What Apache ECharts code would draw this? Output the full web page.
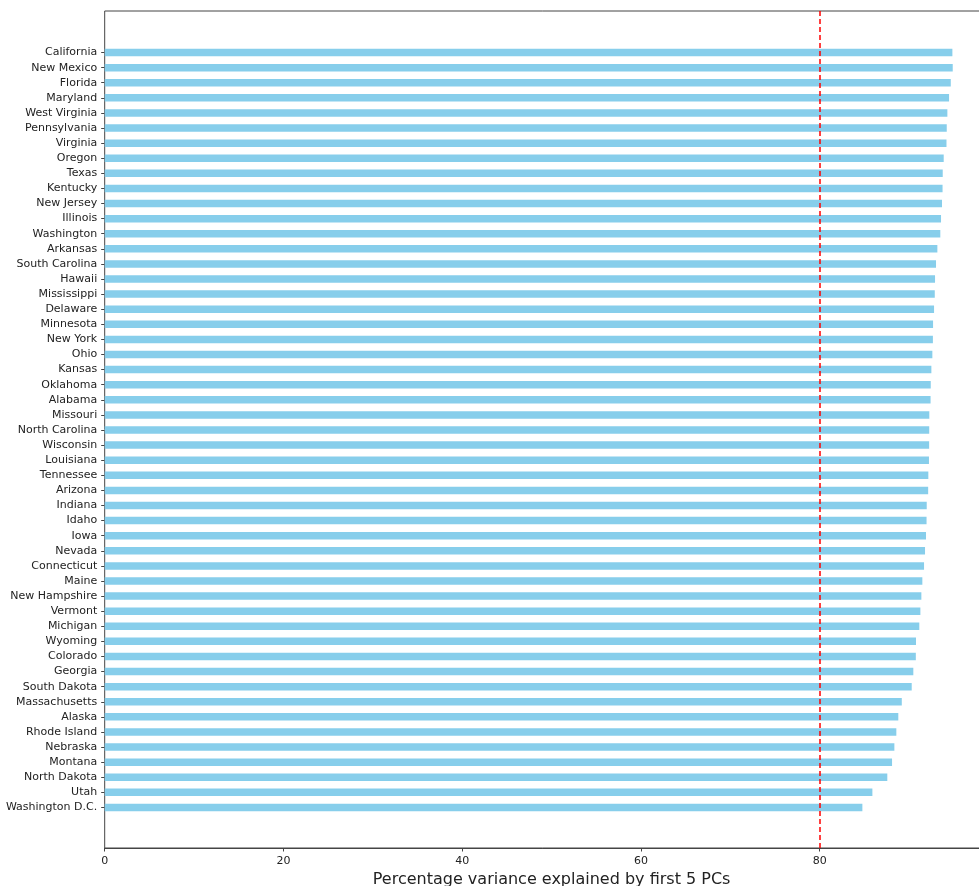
<!DOCTYPE html>
<html>
<head>
<meta charset="utf-8">
<script src="https://cdn.jsdelivr.net/npm/echarts@6/dist/echarts.min.js"></script>
<style>
  html, body { margin: 0; padding: 0; background: #fff; }
  #main { width: 979px; height: 886px; }
</style>
</head>
<body>
<div id="main"></div>
<script>
// states, sorted by variance explained (top to bottom)
const states = [
  'California', 'New Mexico', 'Florida', 'Maryland', 'West Virginia', 'Pennsylvania',
  'Virginia', 'Oregon', 'Texas', 'Kentucky', 'New Jersey', 'Illinois', 'Washington',
  'Arkansas', 'South Carolina', 'Hawaii', 'Mississippi', 'Delaware', 'Minnesota',
  'New York', 'Ohio', 'Kansas', 'Oklahoma', 'Alabama', 'Missouri', 'North Carolina',
  'Wisconsin', 'Louisiana', 'Tennessee', 'Arizona', 'Indiana', 'Idaho', 'Iowa',
  'Nevada', 'Connecticut', 'Maine', 'New Hampshire', 'Vermont', 'Michigan', 'Wyoming',
  'Colorado', 'Georgia', 'South Dakota', 'Massachusetts', 'Alaska', 'Rhode Island',
  'Nebraska', 'Montana', 'North Dakota', 'Utah', 'Washington D.C.'
]

// % variance explained by first 5 PCs
const variance = [
  94.84, 94.88, 94.66, 94.47, 94.28, 94.21,
  94.18, 93.87, 93.76, 93.74, 93.68, 93.57, 93.49,
  93.16, 93.01, 92.90, 92.87, 92.79, 92.68,
  92.66, 92.60, 92.49, 92.42, 92.40, 92.26, 92.25,
  92.24, 92.22, 92.15, 92.13, 91.97, 91.95, 91.89,
  91.78, 91.67, 91.48, 91.37, 91.26, 91.14, 90.77,
  90.75, 90.47, 90.29, 89.18, 88.79, 88.57,
  88.35, 88.09, 87.56, 85.89, 84.77
]

const threshold = 80
const xMin = 0
const xMax = 100
const xStep = 20

const font = 'DejaVu Sans'
const ink = '#222'

const chart = echarts.init(document.getElementById('main'))

const option = {
  animation: false,
  textStyle: { fontFamily: font },
  grid: [
    // frame + x axis (right side runs off the canvas, like the cropped original)
    { left: 104.7, right: -19.5, top: 11, bottom: 38, show: true, borderColor: '#444', borderWidth: 1, outerBoundsMode: 'none', containLabel: false },
    // bars
    { left: 104.7, right: -19.5, top: 45, bottom: 71, outerBoundsMode: 'none', containLabel: false },
  ],
  xAxis: [
    {
      type: 'value',
      gridIndex: 0,
      min: xMin,
      max: xMax,
      interval: xStep,
      name: 'Percentage variance explained by first 5 PCs',
      nameLocation: 'middle',
      nameGap: 22,
      nameTextStyle: { fontSize: 16, color: ink, fontFamily: font },
      axisLine: { show: true, lineStyle: { color: '#444', width: 1 } },
      axisTick: { show: true, inside: false, length: 3.5, lineStyle: { color: '#444' } },
      axisLabel: { fontSize: 11, color: ink, margin: 8, fontFamily: font },
      splitLine: { show: false },
    },
    {
      type: 'value',
      gridIndex: 1,
      min: xMin,
      max: xMax,
      show: false,
      splitLine: { show: false },
    },
  ],
  yAxis: [
    {
      type: 'value',
      gridIndex: 0,
      min: 0,
      max: 1,
      show: false,
      splitLine: { show: false },
    },
    {
      type: 'category',
      gridIndex: 1,
      inverse: true,
      data: states,
      axisLine: { show: false },
      axisTick: { show: true, alignWithLabel: true, length: 3.5, lineStyle: { color: '#444' } },
      axisLabel: { fontSize: 11, color: ink, margin: 7.5, fontFamily: font, interval: 0 },
      splitLine: { show: false },
    },
  ],
  series: [
    {
      type: 'bar',
      xAxisIndex: 1,
      yAxisIndex: 1,
      data: variance,
      barWidth: 7.5,
      itemStyle: { color: '#87CEEB' },
      silent: true,
    },
    {
      type: 'line',
      xAxisIndex: 0,
      yAxisIndex: 0,
      data: [],
      silent: true,
      markLine: {
        silent: true,
        symbol: 'none',
        label: { show: false },
        lineStyle: { color: '#ff0000', type: [5, 3], width: 1.5 },
        data: [{ xAxis: threshold }],
      },
    },
  ],
}

chart.setOption(option)
</script>
</body>
</html>
